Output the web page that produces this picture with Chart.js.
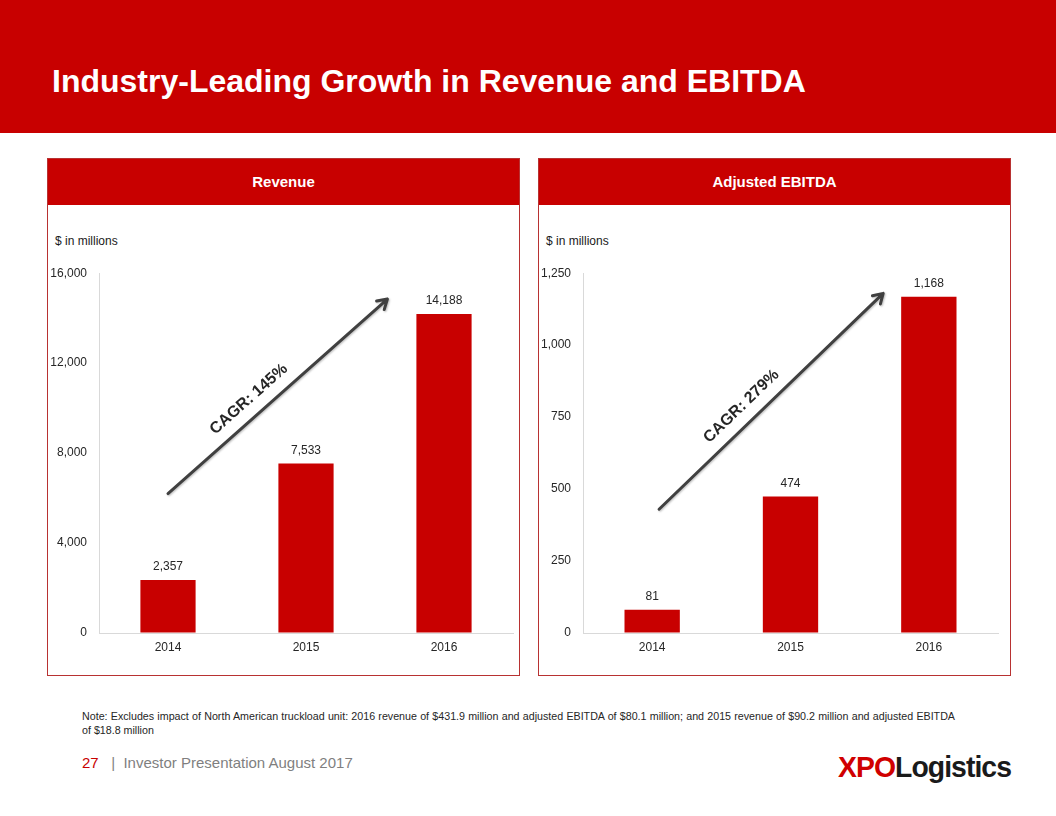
<!DOCTYPE html>
<html>
<head>
<meta charset="utf-8">
<script src="https://cdn.jsdelivr.net/npm/chart.js@4/dist/chart.umd.min.js"></script>
<style>
  body { margin: 0; width: 1056px; height: 816px; position: relative; background: #fff; font-family: "Liberation Sans", Arial, sans-serif; overflow: hidden; }
  .topbar { position: absolute; left: 0; top: 0; width: 1056px; height: 133px; background: #c80000; }
  .title { position: absolute; left: 52px; top: 63px; color: #fff; font-size: 32px; font-weight: bold; }
  .panel { position: absolute; top: 158px; width: 473px; height: 518px; border: 1px solid #b83232; box-sizing: border-box; }
  .panel .head { height: 46px; background: #c80000; color: #fff; font-weight: bold; font-size: 15px; text-align: center; line-height: 46px; }
  .unit { position: absolute; top: 234px; font-size: 12px; color: #1a1a1a; }
  .chartbox { position: absolute; top: 254px; width: 472px; height: 408px; }
  .note { position: absolute; left: 82px; top: 709px; width: 873px; font-size: 10.7px; color: #262626; line-height: 14px; }
  .note .l1 { text-align: justify; text-align-last: justify; white-space: nowrap; }
  .foot { position: absolute; left: 82px; top: 754px; font-size: 15px; color: #7f7f7f; }
  .foot .num { color: #c80000; }
  .logo { position: absolute; left: 838px; top: 750px; font-size: 30px; font-weight: bold; letter-spacing: -1px; transform: scaleX(0.945); transform-origin: left top; color: #1a1a1a; }
  .logo .xpo { color: #d00000; }
</style>
</head>
<body>
<div class="topbar"></div>
<div class="title">Industry-Leading Growth in Revenue and EBITDA</div>

<div class="panel" style="left:47px"><div class="head">Revenue</div></div>
<div class="panel" style="left:538px"><div class="head">Adjusted EBITDA</div></div>

<div class="unit" style="left:55px">$ in millions</div>
<div class="unit" style="left:546px">$ in millions</div>

<div class="chartbox" style="left:48px"><canvas id="revChart" width="472" height="408"></canvas></div>
<div class="chartbox" style="left:539px"><canvas id="ebitdaChart" width="472" height="408"></canvas></div>

<div class="note">
  <div class="l1">Note: Excludes impact of North American truckload unit: 2016 revenue of $431.9 million and adjusted EBITDA of $80.1 million; and 2015 revenue of $90.2 million and adjusted EBITDA</div>
  <div>of $18.8 million</div>
</div>

<div class="foot"><span class="num">27</span>&nbsp;&nbsp; |&nbsp; Investor Presentation August 2017</div>
<div class="logo"><span class="xpo">XPO</span>Logistics</div>

<script>
const years = ["2014", "2015", "2016"];
const revenue = [2357, 7533, 14188];
const ebitda = [81, 474, 1168];

const revenueMax = 16000;
const revenueStep = 4000;
const ebitdaMax = 1250;
const ebitdaStep = 250;

// arrow ends in data units: [category index, value]
const revenueArrow = { from: [0, 6200], to: [1.59, 14850], text: "CAGR: 145%" };
const ebitdaArrow = { from: [0.05, 430], to: [1.67, 1180], text: "CAGR: 279%" };

const barRed = "#c80000";
const axisGrey = "#d9d9d9";
const textColor = "#262626";
const fontFamily = "'Liberation Sans', Arial, sans-serif";

// value labels above the bars
const valueLabels = {
  id: "valueLabels",
  afterDatasetsDraw(chart) {
    const ctx = chart.ctx;
    const meta = chart.getDatasetMeta(0);
    ctx.save();
    ctx.font = "12px " + fontFamily;
    ctx.fillStyle = textColor;
    ctx.textAlign = "center";
    ctx.textBaseline = "middle";
    meta.data.forEach((bar, i) => {
      const v = chart.data.datasets[0].data[i];
      ctx.fillText(v.toLocaleString("en-US"), bar.x, bar.y - 13);
    });
    ctx.restore();
  }
};

// CAGR arrow with rotated label
const cagrArrow = {
  id: "cagrArrow",
  afterDatasetsDraw(chart, args, opts) {
    if (!opts.from) return;
    const xs = chart.scales.x, ys = chart.scales.y;
    const x1 = xs.getPixelForValue(opts.from[0]), y1 = ys.getPixelForValue(opts.from[1]);
    const x2 = xs.getPixelForValue(opts.to[0]), y2 = ys.getPixelForValue(opts.to[1]);
    const ang = Math.atan2(y2 - y1, x2 - x1);
    const ctx = chart.ctx;
    ctx.save();
    ctx.strokeStyle = "#404040";
    ctx.lineWidth = 3;
    ctx.lineCap = "round";
    ctx.lineJoin = "round";
    ctx.shadowColor = "rgba(0,0,0,0.25)";
    ctx.shadowBlur = 2;
    ctx.shadowOffsetX = 1;
    ctx.shadowOffsetY = 1;
    ctx.beginPath();
    ctx.moveTo(x1, y1);
    ctx.lineTo(x2, y2);
    const head = 11;
    ctx.moveTo(x2 - head * Math.cos(ang - 0.55), y2 - head * Math.sin(ang - 0.55));
    ctx.lineTo(x2, y2);
    ctx.lineTo(x2 - head * Math.cos(ang + 0.55), y2 - head * Math.sin(ang + 0.55));
    ctx.stroke();
    ctx.restore();

    // label along the arrow, offset above it
    const t = 0.42, off = 17;
    const mx = x1 + (x2 - x1) * t + off * Math.sin(ang);
    const my = y1 + (y2 - y1) * t - off * Math.cos(ang);
    ctx.save();
    ctx.translate(mx, my);
    ctx.rotate(ang);
    ctx.font = "bold 16px " + fontFamily;
    ctx.fillStyle = textColor;
    ctx.textAlign = "center";
    ctx.textBaseline = "middle";
    ctx.fillText(opts.text, 0, 0);
    ctx.restore();
  }
};

function makeChart(id, values, max, step, arrow, leftWidth, rightPad) {
  return new Chart(document.getElementById(id), {
    type: "bar",
    data: {
      labels: years,
      datasets: [{
        data: values,
        backgroundColor: barRed,
        barPercentage: 0.4,
        categoryPercentage: 1.0
      }]
    },
    options: {
      responsive: false,
      animation: false,
      layout: { padding: { top: 0, right: rightPad, bottom: 0, left: 0 } },
      plugins: {
        legend: { display: false },
        tooltip: { enabled: false },
        cagrArrow: arrow
      },
      scales: {
        x: {
          grid: { color: "transparent", drawTicks: false },
          border: { color: axisGrey, width: 1 },
          ticks: { color: textColor, font: { size: 12, family: fontFamily }, padding: 7 },
          afterFit(scale) { scale.height = 29; }
        },
        y: {
          min: 0,
          max: max,
          grid: { color: "transparent", drawTicks: false },
          border: { color: axisGrey, width: 1 },
          ticks: {
            stepSize: step,
            color: textColor,
            font: { size: 12, family: fontFamily },
            padding: 12,
            callback: (v) => v.toLocaleString("en-US")
          },
          afterFit(scale) { scale.width = leftWidth; }
        }
      }
    },
    plugins: [valueLabels, cagrArrow]
  });
}

makeChart("revChart", revenue, revenueMax, revenueStep, revenueArrow, 51, 7);
makeChart("ebitdaChart", ebitda, ebitdaMax, ebitdaStep, ebitdaArrow, 44, 13);
</script>
</body>
</html>
